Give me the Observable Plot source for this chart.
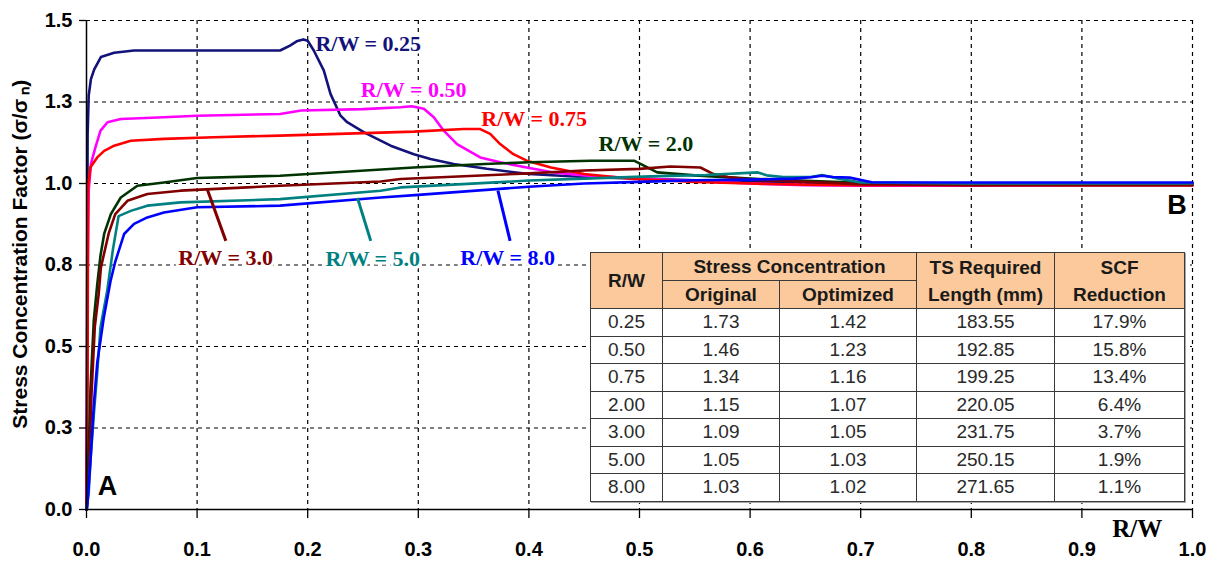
<!DOCTYPE html>
<html><head><meta charset="utf-8">
<script src="https://cdn.jsdelivr.net/npm/d3@7"></script>
<script src="https://cdn.jsdelivr.net/npm/@observablehq/plot@0.6"></script>
<style>
body{margin:0;background:#fff;}
#wrap{position:relative;width:1215px;height:561px;overflow:hidden;background:#fff;}
#wrap svg{position:absolute;left:0;top:0;}
#tbl{position:absolute;left:590px;top:252px;width:594px;border-collapse:collapse;table-layout:fixed;font-family:"Liberation Sans",Arial,sans-serif;color:#2a2a2a;background:#fff;box-shadow:1px 1px 0 #aaa;}
#tbl td,#tbl th{border:1.5px solid #3a3a3a;text-align:center;padding:0;white-space:nowrap;}
#tbl th{background:#fbc99b;font-weight:bold;font-size:19px;color:#1a1a1a;line-height:27px;}
#tbl td{font-size:19px;height:26.5px;line-height:26.5px;}
</style></head>
<body>
<div id="wrap"></div>
<script>
// ---- series (R/W ratio curves) ----
const rwKeys = ["0.25","0.50","0.75","2.0","3.0","5.0","8.0"];
const seriesColors = ["#12127a","#ff00ff","#ff0000","#003300","#800000","#008080","#0000ff"];

const x_025 = [0,0.0005,0.001,0.002,0.004,0.007,0.013,0.025,0.043,0.10,0.175,0.184,0.19,0.196,0.2,0.2055,0.2146,0.2206,0.2297,0.2357,0.251,0.275,0.296,0.311,0.332,0.362,0.40,0.45,0.50,0.55,0.60,0.65,0.70,0.80,0.90,1.0];
const y_025 = [0,0.6,1.15,1.27,1.32,1.35,1.388,1.401,1.408,1.408,1.408,1.423,1.436,1.442,1.438,1.408,1.346,1.275,1.208,1.188,1.157,1.116,1.09,1.075,1.06,1.045,1.029,1.02,1.015,1.01,1.006,1.003,1.0,1.0,1.0,1.0];

const x_050 = [0,0.001,0.002,0.004,0.008,0.0127,0.019,0.031,0.07,0.10,0.175,0.194,0.25,0.284,0.294,0.305,0.314,0.323,0.335,0.356,0.374,0.398,0.42,0.45,0.50,0.55,0.60,0.65,0.70,0.80,0.90,1.0];
const y_050 = [0,0.7,0.98,1.06,1.11,1.162,1.188,1.198,1.203,1.208,1.213,1.224,1.228,1.234,1.237,1.229,1.203,1.162,1.121,1.08,1.065,1.049,1.035,1.025,1.015,1.008,1.0,0.995,0.993,0.993,0.995,0.995];

const x_075 = [0,0.001,0.0014,0.0036,0.0097,0.016,0.025,0.04,0.07,0.115,0.175,0.296,0.341,0.356,0.365,0.374,0.386,0.398,0.42,0.45,0.495,0.55,0.60,0.65,0.70,0.80,0.90,1.0];
const y_075 = [0,0.4,0.99,1.05,1.08,1.10,1.116,1.131,1.137,1.142,1.147,1.159,1.167,1.167,1.152,1.121,1.09,1.07,1.049,1.029,1.014,1.005,1.0,0.996,0.995,0.995,0.995,0.995];

const x_20 = [0,0.001,0.002,0.0036,0.0066,0.0097,0.0127,0.016,0.022,0.031,0.046,0.07,0.10,0.175,0.296,0.36,0.40,0.456,0.495,0.504,0.516,0.55,0.60,0.65,0.70,0.80,0.90,1.0];
const y_20 = [0,0.05,0.17,0.37,0.58,0.69,0.78,0.846,0.906,0.957,0.993,1.003,1.017,1.024,1.049,1.06,1.065,1.07,1.07,1.055,1.034,1.025,1.015,1.008,1.002,1.0,1.0,1.0];

const x_30 = [0,0.001,0.0025,0.0045,0.0075,0.011,0.013,0.02,0.026,0.037,0.055,0.085,0.145,0.175,0.266,0.284,0.40,0.45,0.50,0.528,0.555,0.567,0.58,0.60,0.65,0.70,0.80,0.90,1.0];
const y_30 = [0,0.05,0.15,0.35,0.56,0.66,0.742,0.846,0.906,0.947,0.968,0.978,0.988,0.993,1.006,1.014,1.031,1.04,1.045,1.052,1.049,1.029,1.02,1.012,1.005,0.998,0.995,0.995,0.995];

const x_50 = [0,0.002,0.0036,0.0066,0.0097,0.0127,0.0187,0.024,0.029,0.04,0.055,0.085,0.175,0.266,0.284,0.40,0.45,0.51,0.56,0.607,0.615,0.63,0.655,0.665,0.68,0.70,0.80,0.90,1.0];
const y_50 = [0,0.05,0.15,0.29,0.42,0.56,0.67,0.80,0.90,0.916,0.932,0.942,0.952,0.978,0.988,1.009,1.015,1.022,1.026,1.034,1.025,1.02,1.02,1.026,1.015,1.003,1.0,1.0,1.0];

const x_80 = [0,0.0006,0.0036,0.0066,0.0097,0.0157,0.0217,0.026,0.034,0.043,0.055,0.07,0.10,0.175,0.266,0.30,0.40,0.45,0.50,0.55,0.60,0.64,0.655,0.665,0.675,0.69,0.71,0.80,0.90,1.0];
const y_80 = [0,0.005,0.15,0.32,0.45,0.59,0.70,0.76,0.845,0.876,0.896,0.911,0.927,0.932,0.957,0.965,0.99,1.0,1.005,1.01,1.012,1.015,1.019,1.024,1.02,1.018,1.004,1.003,1.003,1.003];

const seriesX = [x_025,x_050,x_075,x_20,x_30,x_50,x_80];
const seriesY = [y_025,y_050,y_075,y_20,y_30,y_50,y_80];

// ---- axes ----
const xTicks = [0,0.1,0.2,0.3,0.4,0.5,0.6,0.7,0.8,0.9,1.0];
const xTickLabels = ["0.0","0.1","0.2","0.3","0.4","0.5","0.6","0.7","0.8","0.9","1.0"];
const yTicks = [0,0.25,0.5,0.75,1.0,1.25,1.5];
const yTickLabels = ["0.0","0.3","0.5","0.8","1.0","1.3","1.5"];
const yTitle = "Stress Concentration Factor (σ/σ\u2009\u2099)";

// ---- in-chart labels (anchored in data units) ----
const labelText = ["R/W = 0.25","R/W = 0.50","R/W = 0.75","R/W = 2.0","R/W = 3.0","R/W = 5.0","R/W = 8.0"];
const labelX = [0.207,0.248,0.357,0.463,0.083,0.216,0.338];
const labelY = [1.429,1.288,1.199,1.122,0.772,0.769,0.772];
const leaderRW = ["3.0","5.0","8.0"];
const leaderX1 = [0.109,0.245,0.372];
const leaderY1 = [0.984,0.956,0.978];
const leaderX2 = [0.126,0.257,0.383];
const leaderY2 = [0.824,0.824,0.824];

// ---- table ----
const tableRW = ["0.25","0.50","0.75","2.00","3.00","5.00","8.00"];
const tableOriginal = ["1.73","1.46","1.34","1.15","1.09","1.05","1.03"];
const tableOptimized = ["1.42","1.23","1.16","1.07","1.05","1.03","1.02"];
const tableLength = ["183.55","192.85","199.25","220.05","231.75","250.15","271.65"];
const tableReduction = ["17.9%","15.8%","13.4%","6.4%","3.7%","1.9%","1.1%"];

const rows = rwKeys.flatMap((k,i) => seriesX[i].map((x,j) => ({rw:k, x, y:seriesY[i][j]})));
const labels = rwKeys.map((k,i) => ({rw:k, text:labelText[i], x:labelX[i], y:labelY[i]}));
const leaders = leaderRW.map((k,i) => ({rw:k, x1:leaderX1[i], y1:leaderY1[i], x2:leaderX2[i], y2:leaderY2[i]}));

const sans = "Liberation Sans, Arial, sans-serif";
const serif = "Liberation Serif, Times New Roman, serif";
const dash = {stroke:"#000", strokeOpacity:1, strokeWidth:1.2, strokeDasharray:"4,4"};

const chart = Plot.plot({
  width:1215, height:561,
  marginLeft:86, marginRight:23, marginTop:20, marginBottom:52,
  x:{domain:[0,1], axis:null, label:null},
  y:{domain:[0,1.5], axis:null, label:null},
  color:{domain:rwKeys, range:seriesColors},
  style:{fontFamily:sans, background:"white", overflow:"visible", color:"#000"},
  marks:[
    Plot.gridY(yTicks.filter(d => d > 0), dash),
    Plot.gridX(xTicks.filter(d => d > 0), dash),
    Plot.text(labels, {x:"x", y:"y", text:"text", fill:"rw", textAnchor:"start", fontFamily:serif, fontWeight:"bold", fontSize:22, stroke:"white", strokeWidth:6}),
    Plot.line(rows, {x:"x", y:"y", z:"rw", stroke:"rw", strokeWidth:2.6, strokeLinejoin:"round"}),
    Plot.link(leaders, {x1:"x1", y1:"y1", x2:"x2", y2:"y2", stroke:"rw", strokeWidth:3}),
    Plot.ruleX([0], {stroke:"#000", strokeWidth:1.5}),
    Plot.ruleY([0], {stroke:"#000", strokeWidth:1.5}),
    Plot.axisX(xTicks, {label:null, tickSize:9, tickPadding:23, strokeWidth:1.3, tickFormat:d => xTickLabels[xTicks.indexOf(d)], fontSize:20, fontWeight:"bold", fontFamily:sans}),
    Plot.axisY(yTicks, {label:null, tickSize:7, tickPadding:7, strokeWidth:1.3, tickFormat:d => yTickLabels[yTicks.indexOf(d)], fontSize:20, fontWeight:"bold", fontFamily:sans}),
    Plot.text([yTitle], {frameAnchor:"left", textAnchor:"middle", dx:-66, y:() => 0.783, rotate:-90, fontSize:21, fontWeight:"bold", fontFamily:sans, ariaLabel:"ytitle"}),
    Plot.text(["A"], {x:() => 0.019, y:() => 0.072, fontSize:27, fontWeight:"bold", fontFamily:sans}),
    Plot.text(["B"], {x:() => 0.986, y:() => 0.932, fontSize:27, fontWeight:"bold", fontFamily:sans}),
    Plot.text(["R/W"], {x:() => 0.95, y:() => -0.06, fontSize:25, fontWeight:"bold", fontFamily:serif})
  ]
});

document.getElementById("wrap").appendChild(chart);

// stretch the y title to the reference's length
const t = chart.querySelector('g[aria-label="ytitle"] text');
if (t) {
  t.setAttribute("textLength", "415");
  t.setAttribute("lengthAdjust", "spacingAndGlyphs");
}

// data table
const tbl = document.createElement("table");
tbl.id = "tbl";
let html = '<colgroup><col style="width:72px"><col style="width:117px"><col style="width:137px"><col style="width:138px"><col style="width:130px"></colgroup>';
html += '<tr><th rowspan="2">R/W</th><th colspan="2">Stress Concentration</th><th rowspan="2">TS Required<br>Length (mm)</th><th rowspan="2">SCF<br>Reduction</th></tr>';
html += '<tr><th>Original</th><th>Optimized</th></tr>';
tableRW.forEach((r,i) => {
  html += `<tr><td>${r}</td><td>${tableOriginal[i]}</td><td>${tableOptimized[i]}</td><td>${tableLength[i]}</td><td>${tableReduction[i]}</td></tr>`;
});
tbl.innerHTML = html;
document.getElementById("wrap").appendChild(tbl);
</script>
</body></html>
